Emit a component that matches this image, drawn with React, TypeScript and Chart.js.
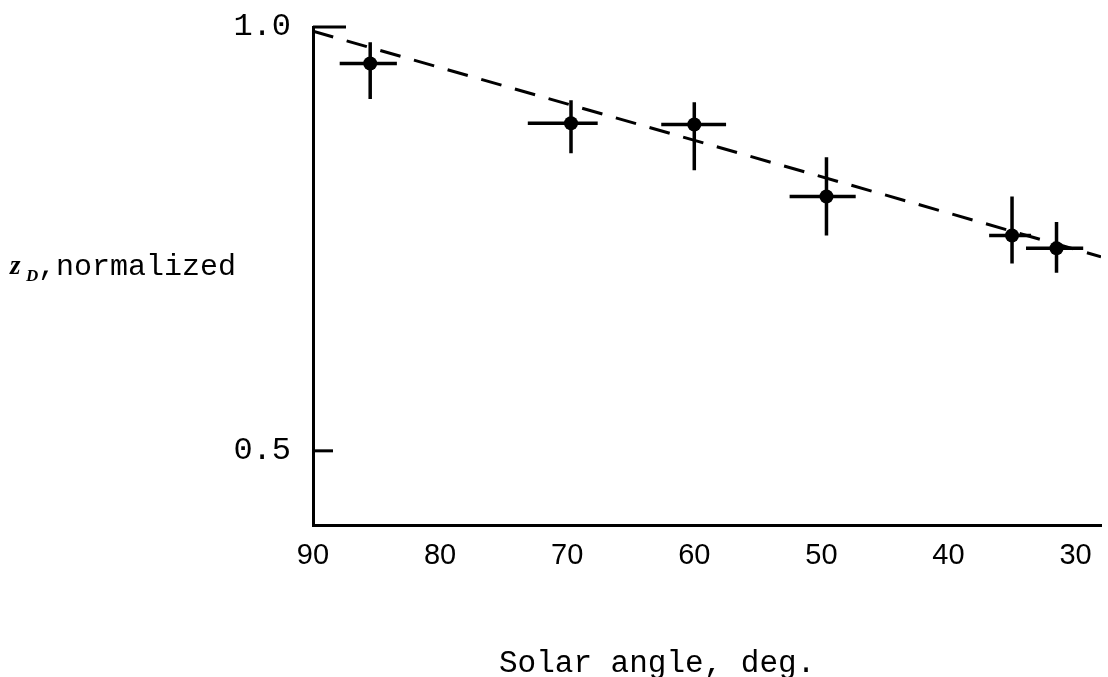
import React, { useEffect, useRef } from 'react';
import { Chart, registerables } from 'chart.js';

Chart.register(...registerables);

// Tick labels
const X_TICKS = [90, 80, 70, 60, 50, 40, 30];
const Y_TICKS = [0.5, 1.0];

// Measured points (solar angle in deg, z_D normalized)
const ANGLE = [85.5, 69.7, 60.0, 49.6, 35.0, 31.5];
const ZD = [0.957, 0.8865, 0.885, 0.8, 0.754, 0.739];
// Horizontal error bar ends
const ANGLE_LOW = [83.4, 67.6, 57.5, 47.3, 33.5, 29.4];
const ANGLE_HIGH = [87.9, 73.1, 62.6, 52.5, 36.8, 33.9];
// Vertical error bar ends
const ZD_LOW = [0.915, 0.851, 0.831, 0.754, 0.721, 0.71];
const ZD_HIGH = [0.982, 0.9137, 0.9113, 0.8463, 0.8, 0.77];

// Dashed fit line
const FIT_X = [90, 28];
const FIT_Y = [0.995, 0.729];

// Axis ranges
const X_MIN = 28;
const X_MAX = 90;
const Y_MIN = 0.4125;
const Y_MAX = 1.0;

const MONO = '"Liberation Mono", "DejaVu Sans Mono", monospace';
const SANS = '"Liberation Sans", Arial, sans-serif';

const decorPlugin = {
  id: 'decor',
  afterDraw(chart: any) {
    const { ctx } = chart;
    const x = chart.scales.x;
    const y = chart.scales.y;
    ctx.save();
    ctx.strokeStyle = '#000';
    ctx.lineWidth = 3;
    Y_TICKS.forEach((v) => {
      const py = y.getPixelForValue(v);
      const len = v === Y_MAX ? 33 : 20;
      ctx.beginPath();
      ctx.moveTo(x.left, py);
      ctx.lineTo(x.left + len, py);
      ctx.stroke();
    });
    ctx.fillStyle = '#000';
    ctx.textBaseline = 'alphabetic';
    ctx.textAlign = 'left';
    ctx.font = 'italic bold 27px "Liberation Serif"';
    ctx.fillText('z', 10, 274);
    ctx.font = 'italic bold 17px "Liberation Serif"';
    ctx.fillText('D', 26, 281);
    ctx.font = '30px ' + MONO;
    ctx.fillText(',normalized', 38, 275);
    ctx.font = '31px ' + MONO;
    ctx.fillText('Solar angle, deg.', 499, 672);
    ctx.restore();
  },
};

export default function App() {
  const ref = useRef<HTMLCanvasElement | null>(null);

  useEffect(() => {
    if (!ref.current) return;
    const hBars: any[] = [];
    const vBars: any[] = [];
    ANGLE.forEach((a, i) => {
      hBars.push({ x: ANGLE_HIGH[i], y: ZD[i] }, { x: ANGLE_LOW[i], y: ZD[i] }, { x: ANGLE_LOW[i], y: null });
      vBars.push({ x: a, y: ZD_HIGH[i] }, { x: a, y: ZD_LOW[i] }, { x: a, y: null });
    });
    const fit = FIT_X.map((v, i) => ({ x: v, y: FIT_Y[i] }));
    const pts = ANGLE.map((v, i) => ({ x: v, y: ZD[i] }));

    const chart = new Chart(ref.current, {
      type: 'scatter',
      data: {
        datasets: [
          {
            data: fit,
            showLine: true,
            borderColor: '#000',
            borderWidth: 3,
            borderDash: [21, 14],
            pointRadius: 0,
          },
          {
            data: hBars,
            showLine: true,
            spanGaps: false,
            borderColor: '#000',
            borderWidth: 3.5,
            pointRadius: 0,
          },
          {
            data: vBars,
            showLine: true,
            spanGaps: false,
            borderColor: '#000',
            borderWidth: 3.5,
            pointRadius: 0,
          },
          {
            data: pts,
            showLine: false,
            pointRadius: 7,
            pointBackgroundColor: '#000',
            pointBorderColor: '#000',
            pointBorderWidth: 0,
          },
        ] as any,
      },
      options: {
        animation: false,
        responsive: false,
        layout: { padding: { top: 27, right: 6, left: 0, bottom: 0 } },
        plugins: { legend: { display: false }, tooltip: { enabled: false } },
        scales: {
          x: {
            type: 'linear',
            min: X_MIN,
            max: X_MAX,
            reverse: true,
            afterBuildTicks: (s: any) => {
              s.ticks = X_TICKS.map((v) => ({ value: v }));
            },
            afterFit: (s: any) => {
              s.height = 152;
            },
            grid: { drawOnChartArea: false, drawTicks: false },
            border: { display: true, color: '#000', width: 3 },
            ticks: {
              padding: 14,
              color: '#000',
              autoSkip: false,
              maxRotation: 0,
              font: { family: SANS, size: 29 },
            },
          },
          y: {
            type: 'linear',
            min: Y_MIN,
            max: Y_MAX,
            afterBuildTicks: (s: any) => {
              s.ticks = Y_TICKS.map((v) => ({ value: v }));
            },
            afterFit: (s: any) => {
              s.width = 313;
            },
            grid: {
              drawOnChartArea: false,
              drawTicks: true,
              tickLength: 22,
              tickColor: 'rgba(0,0,0,0)',
            },
            border: { display: true, color: '#000', width: 3 },
            ticks: {
              padding: 0,
              color: '#000',
              font: { family: MONO, size: 32 },
              callback: (v: any) => Number(v).toFixed(1),
            },
          },
        },
      } as any,
      plugins: [decorPlugin],
    });
    return () => chart.destroy();
  }, []);

  return (
    <div style={{ position: 'absolute', left: 0, top: 0, width: 1108, height: 677, background: '#fff' }}>
      <canvas ref={ref} width={1108} height={677} style={{ width: 1108, height: 677 }} />
    </div>
  );
}
